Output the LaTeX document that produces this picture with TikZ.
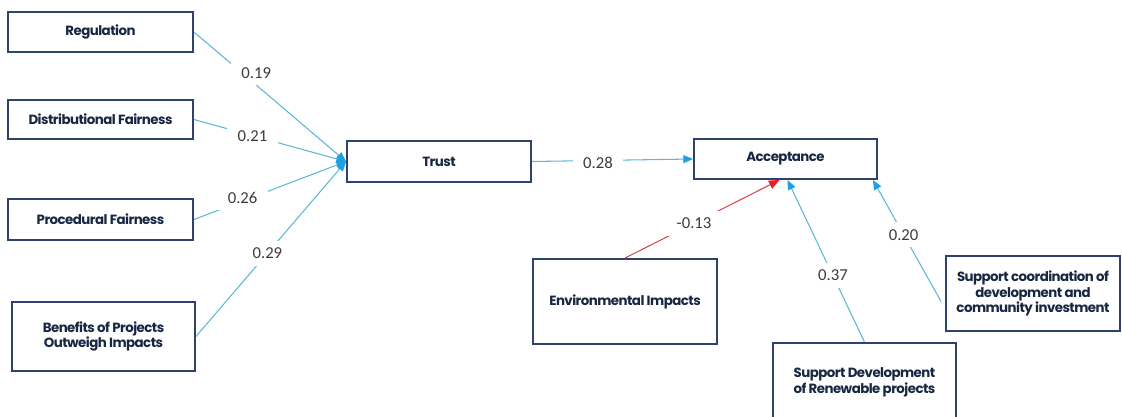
\documentclass[tikz,border=0pt]{standalone}
\usepackage{fontspec}
\setmainfont{Carlito}
\newfontfamily\boxfont{Poppins}[LetterSpace=-4]
\usetikzlibrary{arrows.meta}
\usetikzlibrary{calc}
\definecolor{boxline}{HTML}{2E4270}
\definecolor{boxtext}{HTML}{172641}
\definecolor{linkblue}{HTML}{5CB8D6}
\definecolor{tipblue}{HTML}{1BA1E2}
\definecolor{linkred}{HTML}{D9474B}
\definecolor{tipred}{HTML}{EE1C24}
\definecolor{numgray}{HTML}{3C3C3C}

\begin{document}
\begin{tikzpicture}[x=0.02cm,y=-0.02cm,
    factor/.style={draw=boxline, line width=1.1pt, align=center, inner sep=2pt,
        text=boxtext, font=\boxfont\bfseries\fontsize{7.6}{9}\selectfont},
    link/.style={draw=linkblue, line width=0.6pt,
        -{Triangle[length=5.5pt,width=4.5pt,color=tipblue]}},
    neglink/.style={draw=linkred, line width=0.6pt,
        -{Triangle[length=6pt,width=5pt,color=tipred]}},
    coef/.style={fill=white, inner xsep=6pt, inner ysep=4pt, text=numgray,
        font=\fontsize{9.5}{11}\selectfont}]
            \useasboundingbox (0,0) rectangle (1122,416);

            \node[factor, minimum width=3.7cm, minimum height=0.8cm] (reg) at (100.5,32) {Regulation};
            \node[factor, minimum width=3.7cm, minimum height=0.78cm] (distfair) at (100.5,119.5) {Distributional Fairness};
            \node[factor, minimum width=3.7cm, minimum height=0.82cm] (procfair) at (100.5,219.5) {Procedural Fairness};
            \node[factor, minimum width=3.66cm, minimum height=1.38cm] (benefits) at (103.5,336.5) {Benefits of Projects\\Outweigh Impacts};

            \node[factor, minimum width=3.68cm, minimum height=0.82cm] (trust) at (439,161.5) {Trust};
            \node[factor, minimum width=3.66cm, minimum height=0.8cm] (accept) at (785.5,159) {Acceptance};

            \node[factor, minimum width=3.68cm, minimum height=1.7cm] (envimp) at (625,301.5) {Environmental Impacts};
            \node[factor, minimum width=3.66cm, minimum height=1.56cm] (supdev) at (864.5,382) {Support Development\\of Renewable projects};
            \node[factor, minimum width=3.48cm, minimum height=1.5cm] (supcoord) at (1033,293.5) {Support coordination of\\development and\\community investment};

            \draw[link] (reg.east) -- node[coef, pos=0.37, xshift=3.4pt, yshift=4pt] {0.19} (trust.west);
            \draw[link] (distfair.east) -- node[coef, pos=0.385] {0.21} (trust.west);
            \draw[link] (procfair.east) -- node[coef, pos=0.32, yshift=2pt] {0.26} (trust.west);
            \draw[link] (benefits.east) -- node[coef, pos=0.476] {0.29} (trust.west);

            \draw[link] (trust.east) -- node[coef, pos=0.41, yshift=-1.4pt] {0.28} (accept.west);

            \draw[neglink] (envimp.north) -- node[coef, pos=0.447] {-0.13} ($(accept.south)+(-6,0)$);
            \draw[link] (supdev.north) -- node[coef, pos=0.41] {0.37} ($(accept.south)+(2,0)$);
            \draw[link] ($(supcoord.west)+(-4,8)$) -- node[coef, pos=0.55] {0.20} ($(accept.south east)+(-5,0)$);
        \end{tikzpicture}
\end{document}
